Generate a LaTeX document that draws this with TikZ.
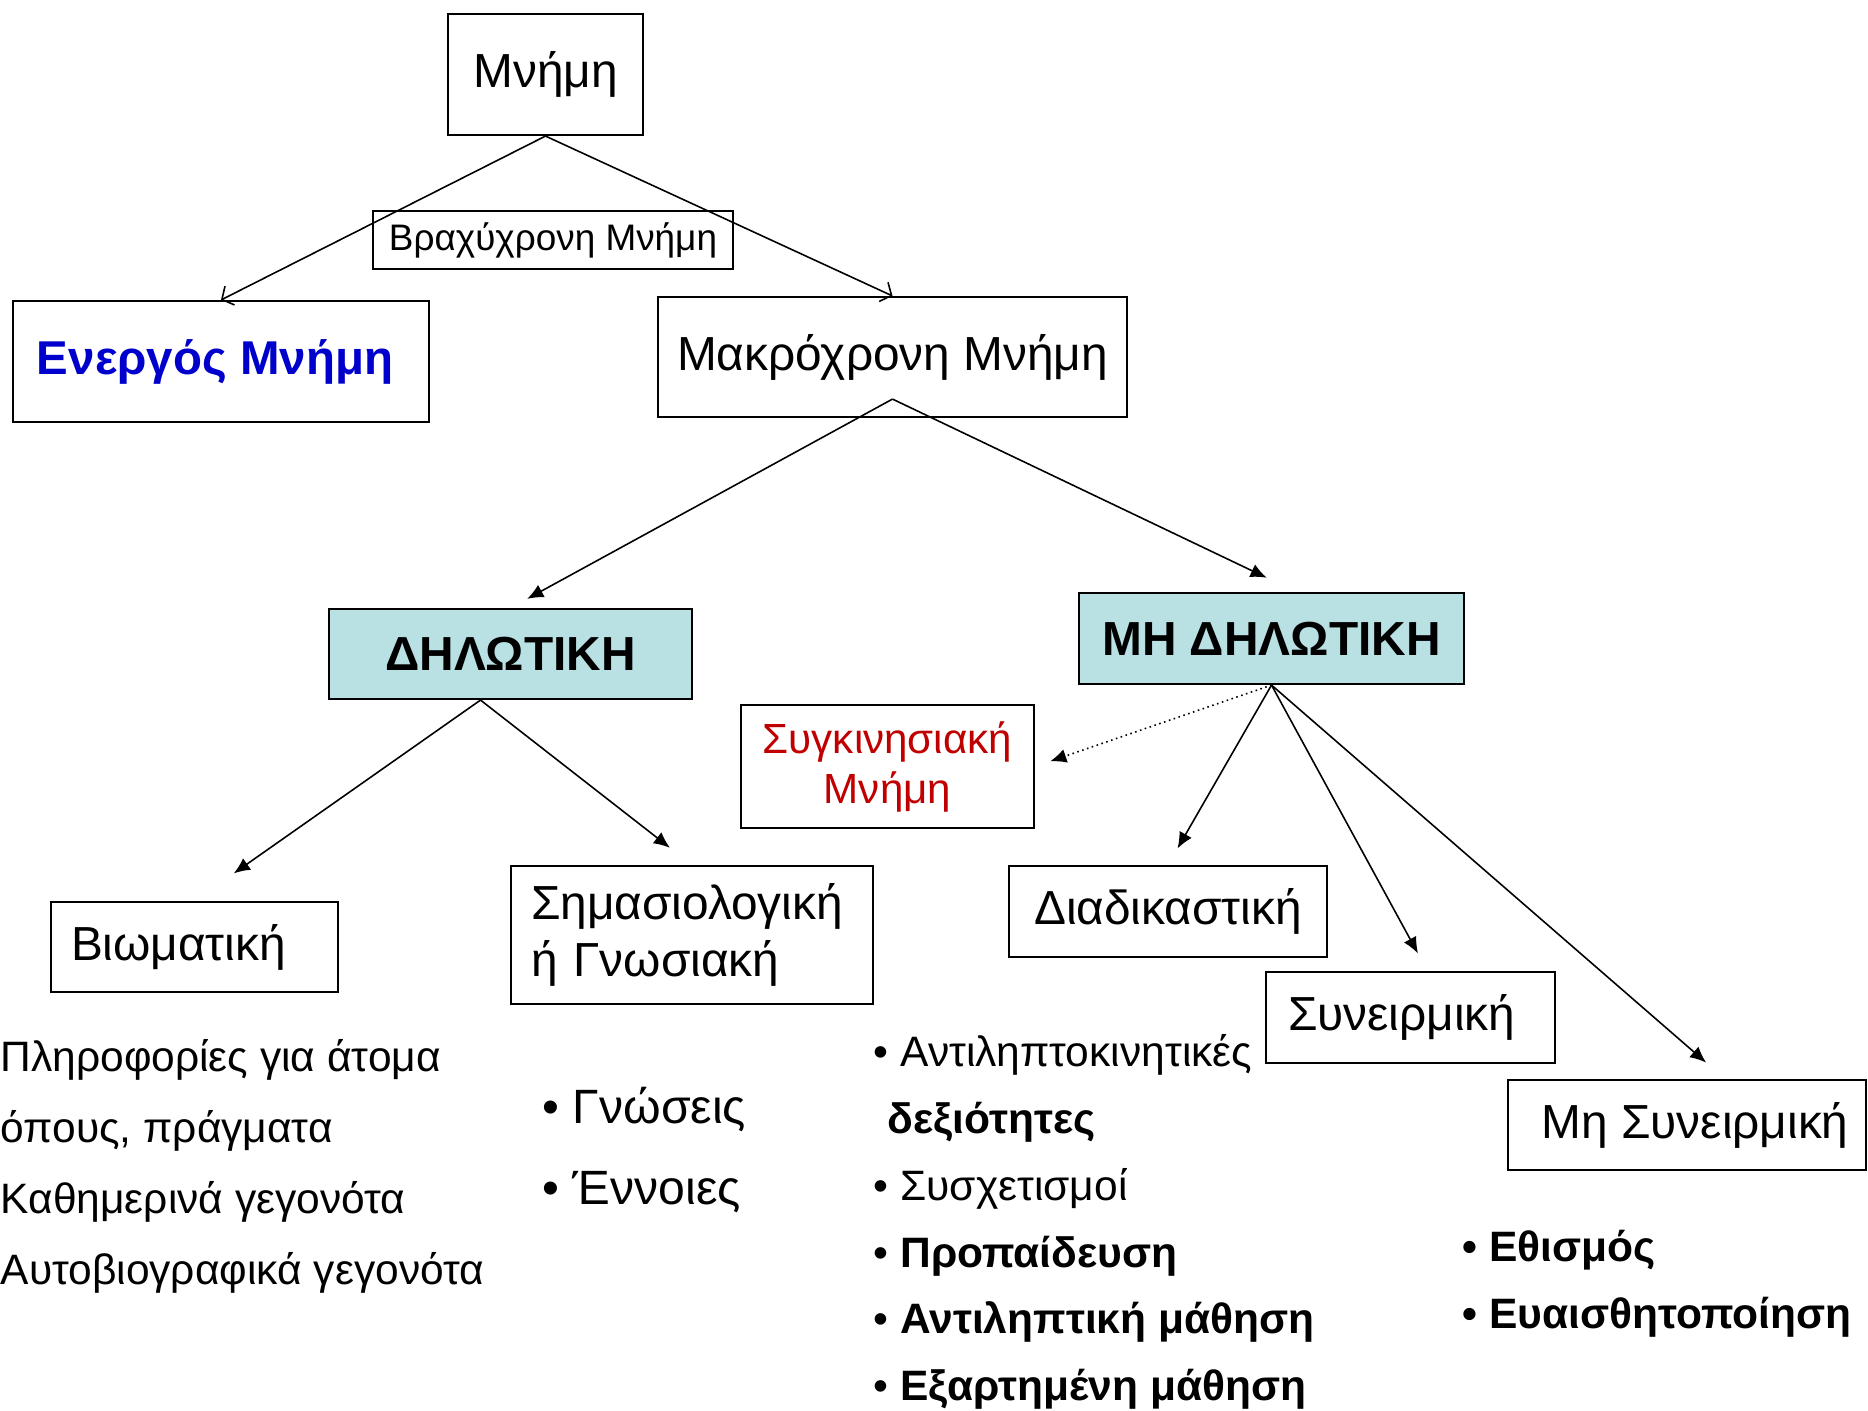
\documentclass[tikz,border=0pt]{standalone}
\usepackage{fontspec}
\setmainfont{Liberation Sans}
\usetikzlibrary{positioning}
\usetikzlibrary{shapes,arrows,arrows.meta}
\definecolor{kindfill}{HTML}{B9E0E3}
\definecolor{wmblue}{HTML}{0000CC}
\definecolor{emored}{HTML}{C00000}

\begin{document}
\begin{tikzpicture}[
  box/.style={draw, line width=0.6pt, inner sep=0pt, align=center, font=\fontsize{13.6}{16}\selectfont},
  kind/.style={box, fill=kindfill, font=\fontsize{13.6}{16}\selectfont\bfseries},
  lbl/.style={inner sep=0pt, anchor=west, align=left},
  arr/.style={-{Latex[length=4.6pt,width=4pt]}, line width=0.45pt},
  barb/.style={-{Straight Barb[length=2.5pt,width=6pt]}, line width=0.45pt}
]
  \useasboundingbox (0,0) rectangle (18.68,-14.10);
  \node(mem) [box, minimum width=1.95cm, minimum height=1.21cm] at (5.455,-0.745) {Μνήμη};
  \node(stm) [box, minimum width=3.6cm, minimum height=0.58cm, font=\fontsize{10.5}{12}\selectfont] at (5.53,-2.40) {Βραχύχρονη Μνήμη};
  \node(wm) [box, minimum width=4.16cm, minimum height=1.21cm, font=\fontsize{13.5}{16}\selectfont\bfseries, text=wmblue] at (2.21,-3.615) {\hspace*{-0.12cm}Ενεργός Μνήμη};
  \node(ltm) [box, minimum width=4.69cm, minimum height=1.20cm] at (8.925,-3.57) {Μακρόχρονη Μνήμη};
  \node(decl) [kind, minimum width=3.63cm, minimum height=0.90cm] at (5.105,-6.54) {ΔΗΛΩΤΙΚΗ};
  \node(nondecl) [kind, minimum width=3.85cm, minimum height=0.91cm] at (12.715,-6.385) {ΜΗ ΔΗΛΩΤΙΚΗ};
  \node(emo) [box, minimum width=2.93cm, minimum height=1.23cm, font=\fontsize{12}{14.2}\selectfont, text=emored] at (8.875,-7.665) {Συγκινησιακή\\Μνήμη};
  \node(epi) [box, inner xsep=0.2cm, text width=2.47cm, align=left, minimum height=0.90cm] at (1.945,-9.47) {Βιωματική};
  \node(sem) [box, inner xsep=0.2cm, text width=3.22cm, align=left, minimum height=1.38cm, font=\fontsize{13.6}{16.2}\selectfont] at (6.92,-9.35) {Σημασιολογική\\ή Γνωσιακή};
  \node(proc) [box, minimum width=3.18cm, minimum height=0.91cm] at (11.68,-9.115) {Διαδικαστική};
  \node(assoc) [box, inner xsep=0.22cm, text width=2.45cm, align=left, minimum height=0.91cm] at (14.105,-10.175) {Συνειρμική};
  \node(nonassoc) [box, minimum width=3.58cm, minimum height=0.90cm] at (16.87,-11.25) {\hspace*{0.16cm}Μη Συνειρμική};
  \node(epilist) [lbl, font=\fontsize{12.1}{20.2}\selectfont] at (0,-11.66) {Πληροφορίες για άτομα\\όπους, πράγματα\\Καθημερινά γεγονότα\\Αυτοβιογραφικά γεγονότα};
  \node(semlist) [lbl, font=\fontsize{13.7}{22.8}\selectfont] at (5.42,-11.50) {• Γνώσεις\\• Έννοιες};
  \node(proclist) [lbl, font=\fontsize{12.1}{19}\selectfont] at (8.73,-12.22) {• Αντιληπτοκινητικές\\\hspace*{0.14cm}\textbf{δεξιότητες}\\• Συσχετισμοί\\• \textbf{Προπαίδευση}\\• \textbf{Αντιληπτική μάθηση}\\• \textbf{Εξαρτημένη μάθηση}};
  \node(nalist) [lbl, font=\fontsize{12.1}{19}\selectfont\bfseries] at (14.62,-12.84) {• Εθισμός\\• Ευαισθητοποίηση};
  \draw[barb] (mem.south) -- (wm.north);
  \draw[barb] (mem.south) -- (ltm.north);
  \draw[arr, shorten >=0.19cm] ([yshift=0.19cm]ltm.south) -- (decl.north);
  \draw[arr, shorten >=0.33cm] ([yshift=0.19cm]ltm.south) -- ([xshift=0.25cm]nondecl.north);
  \draw[arr, shorten >=0.48cm] ([xshift=-0.3cm]decl.south) -- (epi.north);
  \draw[arr, shorten >=0.28cm] ([xshift=-0.3cm]decl.south) -- (sem.north);
  \draw[arr, densely dotted, shorten >=0.16cm] (nondecl.south) -- (emo.east);
  \draw[arr, shorten >=0.19cm] (nondecl.south) -- (proc.north);
  \draw[arr, shorten >=0.2cm] (nondecl.south) -- ([xshift=0.17cm]assoc.north);
  \draw[arr, shorten >=0.25cm] (nondecl.south) -- ([xshift=0.38cm]nonassoc.north);
\end{tikzpicture}
\end{document}
